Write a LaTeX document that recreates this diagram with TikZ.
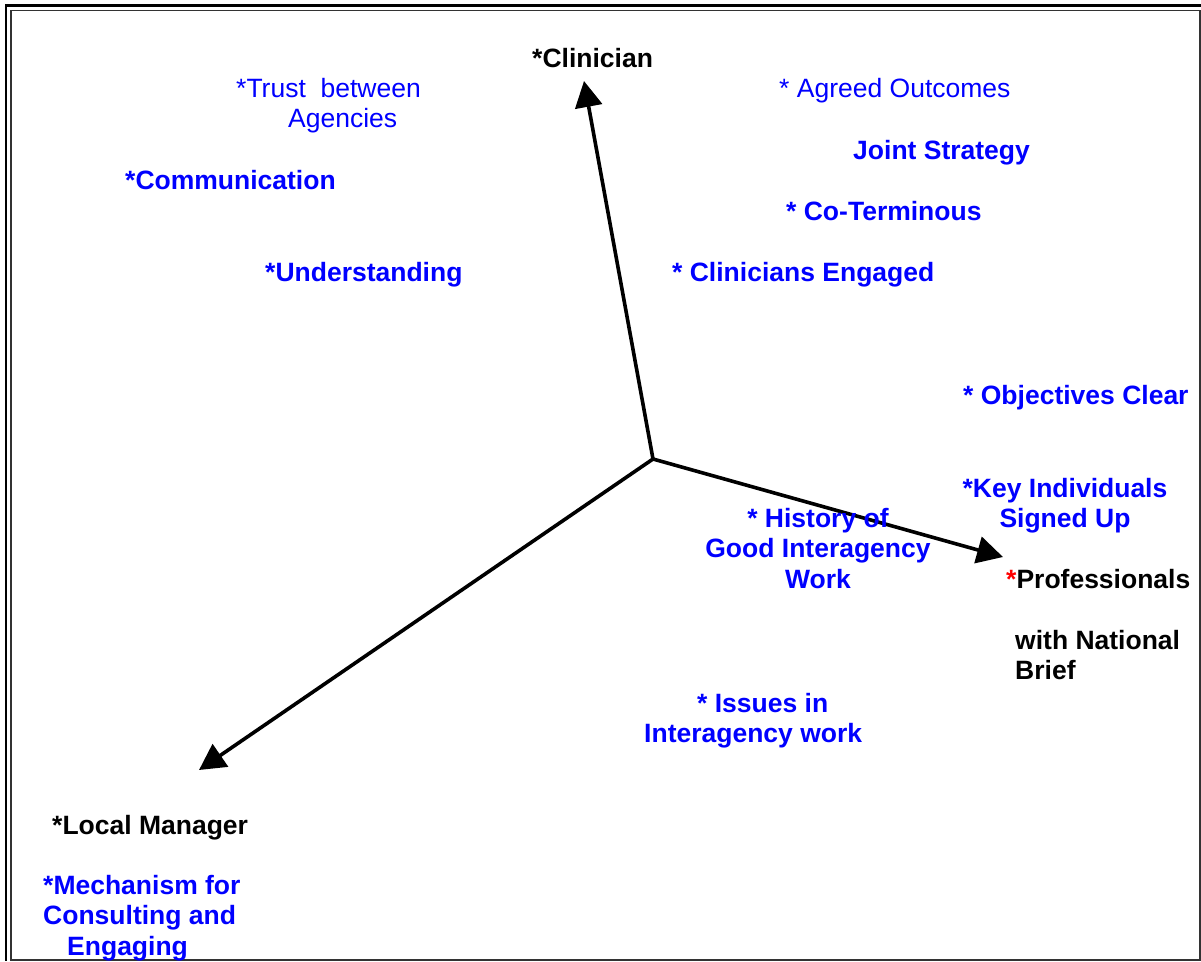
\documentclass[tikz,border=0pt]{standalone}
\usepackage{xcolor}
\usepackage{fontspec}
\setmainfont{Liberation Sans}
\usetikzlibrary{arrows.meta}

\begin{document}
\begin{tikzpicture}[x=1pt, y=-1pt,
    txt/.style={inner sep=0, font=\fontsize{26.5}{30.5}\selectfont},
    head/.style={txt, font=\fontsize{26.5}{30.5}\selectfont\bfseries, black},
    item/.style={txt, font=\fontsize{26.5}{30.5}\selectfont\bfseries, blue},
    itemr/.style={txt, blue},
    axis/.style={line width=3.6pt, -{Triangle[length=26pt, width=27pt]}}]
    \useasboundingbox (0,0) rectangle (1201,961);
    % frame
    \draw [line width=3pt] (5,5.5) -- (1201,5.5);
    \draw [line width=2.5pt] (6,5) -- (6,961);
    \draw [line width=1.5pt, black!80] (11,10.5) rectangle (1199.8,959.8);
    % axes
    \coordinate (O) at (653,459);
    \coordinate (C1) at (584,81);
    \coordinate (P1) at (1003,557);
    \coordinate (L1) at (199,770);
    \draw [axis] (O) -- (C1);
    \draw [axis] (O) -- (P1);
    \draw [axis] (O) -- (L1);
    % axis labels
    \node[head, anchor=north west] (Clin) at (532,48){*Clinician};
    \node[head, anchor=north west] (Prof) at (1006,569){\textcolor{red}{*}Professionals};
    \node[head, anchor=north west, align=left] (Nat) at (1015,630){with National\\Brief};
    \node[head, anchor=north west] (LocMgr) at (52,815){*Local Manager};
    % factors
    \node[itemr, anchor=north west, align=left] (Trust) at (236,78){*Trust\ \ between\\\hspace*{52pt}Agencies};
    \node[itemr, anchor=north west] (Agreed) at (779,78){* Agreed Outcomes};
    \node[item, anchor=north west] (Joint) at (853,140){Joint Strategy};
    \node[item, anchor=north west] (Comm) at (125,170){*Communication};
    \node[item, anchor=north west] (CoTerm) at (786,201){* Co-Terminous};
    \node[item, anchor=north west] (Under) at (265,262){*Understanding};
    \node[item, anchor=north west] (ClinEng) at (672,262){* Clinicians Engaged};
    \node[item, anchor=north west] (Obj) at (963,385){* Objectives Clear};
    \node[item, anchor=north, align=center] (Key) at (1065,478){*Key Individuals\\Signed Up};
    \node[item, anchor=north, align=center] (Hist) at (818,508){* History of\\Good Interagency\\Work};
    \node[item, anchor=north west, align=left] (Issues) at (644,693){\hspace*{53pt}* Issues in\\Interagency work};
    \node[item, anchor=north west, align=left] (Mech) at (43,875){*Mechanism for\\Consulting and\\\hspace*{24pt}Engaging};
  \end{tikzpicture}
\end{document}
